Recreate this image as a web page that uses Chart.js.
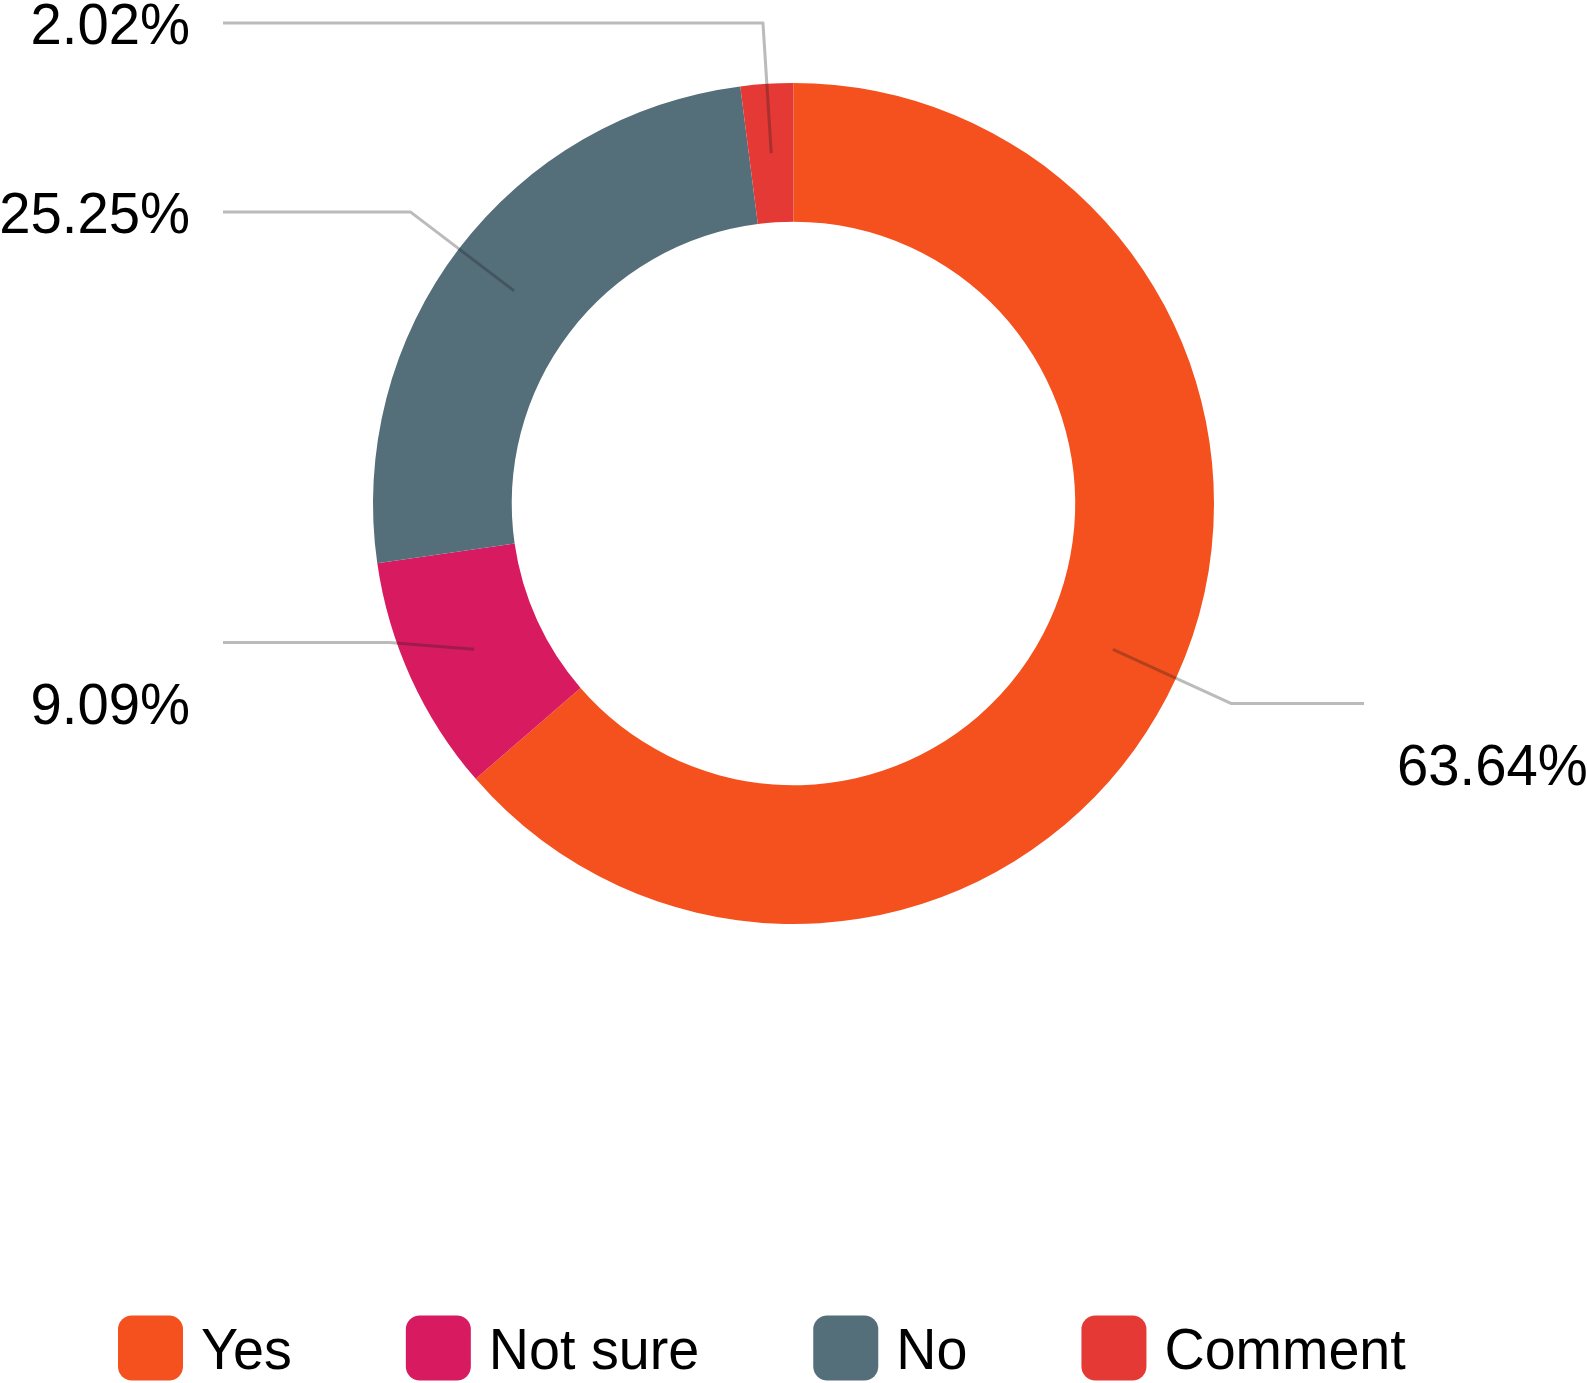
<!DOCTYPE html>
<html>
<head>
<meta charset="utf-8">
<script src="https://cdn.jsdelivr.net/npm/chart.js@4.4.1/dist/chart.umd.min.js"></script>
<style>
  html, body { margin: 0; padding: 0; background: #fff; }
  #wrap { width: 1587px; height: 1383px; }
</style>
</head>
<body>
<div id="wrap"><canvas id="donut" width="1587" height="1383"></canvas></div>
<script>
// survey answers (counts): 63/99, 9/99, 25/99, 2/99
const answers = ["Yes", "Not sure", "No", "Comment"];
const counts = [63, 9, 25, 2];
const sliceColors = ["#F4511E", "#D81B60", "#546E7A", "#E53935"];

const FONT = '"Liberation Sans", Arial, sans-serif';

// leader lines + percentage labels, plus a hand drawn legend row
const outsideLabels = {
  id: "outsideLabels",
  afterDatasetsDraw(chart, args, opts) {
    const ctx = chart.ctx;
    const meta = chart.getDatasetMeta(0);
    const total = counts.reduce((a, b) => a + b, 0);

    meta.data.forEach((arc, i) => {
      const p = arc.getProps(["x", "y", "startAngle", "endAngle", "innerRadius", "outerRadius"], true);
      const mid = (p.startAngle + p.endAngle) / 2;
      const rMid = (p.innerRadius + p.outerRadius) / 2;
      const rOut = p.outerRadius + opts.length;
      const cos = Math.cos(mid), sin = Math.sin(mid);

      const x0 = p.x + cos * rMid, y0 = p.y + sin * rMid;
      const x1 = p.x + cos * rOut + (opts.elbowShiftX[i] || 0);
      const naturalY = p.y + sin * rOut;
      const y1 = naturalY + (opts.lineShift[i] || 0);
      const right = cos >= 0;
      const x2 = right ? p.x + p.outerRadius + opts.reach : p.x - p.outerRadius - opts.reach;

      ctx.save();
      ctx.strokeStyle = opts.lineColor;
      ctx.lineWidth = opts.lineWidth;
      ctx.lineJoin = "round";
      ctx.beginPath();
      ctx.moveTo(x0, y0);
      ctx.lineTo(x1, y1);
      ctx.lineTo(x2, y1);
      ctx.stroke();

      const txt = (counts[i] / total * 100).toFixed(2) + "%";
      const size = opts.fontSize;
      const ty = naturalY + (opts.textShift[i] || 0) + size * 0.358;
      const tx = right ? x2 + opts.gap : x2 - opts.gap;
      ctx.font = size + "px " + FONT;
      ctx.fillStyle = "#000";
      ctx.textBaseline = "alphabetic";
      ctx.textAlign = right ? "left" : "right";
      ctx.translate(tx, ty);
      ctx.scale(opts.squeeze, 1);
      ctx.fillText(txt, 0, 0);
      ctx.restore();
    });
  },
  afterDraw(chart, args, opts) {
    const ctx = chart.ctx;
    const lg = opts.legend;
    let x = lg.left;
    ctx.save();
    ctx.font = lg.fontSize + "px " + FONT;
    ctx.textBaseline = "alphabetic";
    ctx.textAlign = "left";
    answers.forEach((name, i) => {
      ctx.fillStyle = sliceColors[i];
      ctx.beginPath();
      ctx.roundRect(x, lg.centerY - lg.box / 2, lg.box, lg.box, lg.radius);
      ctx.fill();
      const tx = x + lg.box + lg.textGap;
      const w = ctx.measureText(name).width * lg.squeeze;
      ctx.save();
      ctx.fillStyle = "#000";
      ctx.translate(tx, lg.centerY + lg.fontSize * 0.358);
      ctx.scale(lg.squeeze, 1);
      ctx.fillText(name, 0, 0);
      ctx.restore();
      x = tx + w + lg.itemGap;
    });
    ctx.restore();
  }
};

new Chart(document.getElementById("donut"), {
  type: "doughnut",
  data: {
    labels: answers,
    datasets: [{
      data: counts,
      backgroundColor: sliceColors,
      borderWidth: 0,
      hoverOffset: 0
    }]
  },
  options: {
    responsive: false,
    animation: false,
    devicePixelRatio: 1,
    cutout: "67%",
    layout: { padding: { top: 83, bottom: 459, left: 0, right: 0 } },
    plugins: {
      legend: { display: false },
      tooltip: { enabled: false },
      outsideLabels: {
        length: 61,
        reach: 150,
        gap: 33,
        lineColor: "rgba(30,30,30,0.3)",
        lineWidth: 3,
        fontSize: 58,
        squeeze: 0.97,
        lineShift: [0, -61, 0, 0],
        elbowShiftX: [0, 34, 0, 0],
        textShift: [61, 0, 0, 0],
        legend: {
          left: 118, centerY: 1348, box: 65, radius: 14,
          textGap: 18, itemGap: 114, fontSize: 58, squeeze: 0.96
        }
      }
    }
  },
  plugins: [outsideLabels]
});
</script>
</body>
</html>
